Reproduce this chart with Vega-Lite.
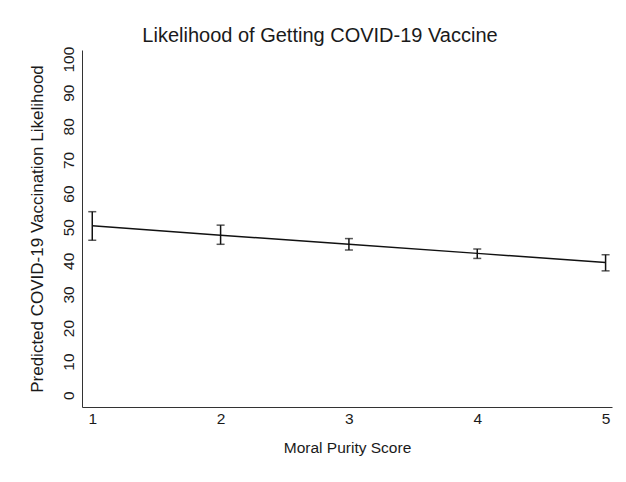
{
  "$schema": "https://vega.github.io/schema/vega-lite/v6.json",
  "width": 530,
  "height": 357,
  "autosize": {"type": "none"},
  "padding": {"left": 82, "top": 50, "right": 14, "bottom": 75},
  "background": "white",
  "title": {
    "text": "Likelihood of Getting COVID-19 Vaccine",
    "font": "Liberation Sans",
    "fontSize": 20,
    "fontWeight": "normal",
    "color": "#1a1a1a",
    "anchor": "middle",
    "dx": -27,
    "offset": 0
  },
  "data": {
    "values": [
      {"score": 1, "pred": 50.4, "lo": 46.1, "hi": 54.6},
      {"score": 2, "pred": 47.6, "lo": 44.9, "hi": 50.6},
      {"score": 3, "pred": 44.9, "lo": 43.2, "hi": 46.6},
      {"score": 4, "pred": 42.2, "lo": 40.7, "hi": 43.5},
      {"score": 5, "pred": 39.5, "lo": 37.0, "hi": 41.8}
    ]
  },
  "config": {
    "view": {"stroke": null},
    "axis": {
      "labelFont": "Liberation Sans",
      "titleFont": "Liberation Sans",
      "labelFontSize": 15.5,
      "titleFontSize": 15.5,
      "titleFontWeight": "normal",
      "labelColor": "#1a1a1a",
      "titleColor": "#1a1a1a",
      "domainColor": "#333333",
      "domainWidth": 1,
      "ticks": false,
      "tickSize": 0,
      "grid": false,
      "labelOverlap": false
    }
  },
  "encoding": {
    "x": {
      "field": "score",
      "type": "quantitative",
      "scale": {"domain": [0.92, 5.05], "nice": false, "zero": false},
      "axis": {"values": [1, 2, 3, 4, 5], "title": "Moral Purity Score", "labelPadding": 4, "titlePadding": 14, "labelFlush": false, "labelOverlap": false}
    }
  },
  "layer": [
    {
      "mark": {"type": "line", "color": "#111111", "strokeWidth": 1.5},
      "encoding": {
        "y": {
          "field": "pred",
          "type": "quantitative",
          "scale": {"domain": [-3.5, 102.7], "nice": false, "zero": false},
          "axis": {
            "values": [0, 10, 20, 30, 40, 50, 60, 70, 80, 90, 100],
            "title": "Predicted COVID-19 Vaccination Likelihood",
            "titleFontSize": 17,
            "labelAngle": 270,
            "labelAlign": "center",
            "labelBaseline": "bottom",
            "labelPadding": 6,
            "titlePadding": 15,
            "labelFlush": false,
            "labelOverlap": false,
            "labelBound": false
          }
        }
      }
    },
    {
      "mark": {"type": "rule", "color": "#111111", "strokeWidth": 1.5},
      "encoding": {
        "y": {
          "field": "lo",
          "type": "quantitative",
          "axis": {
            "values": [0, 10, 20, 30, 40, 50, 60, 70, 80, 90, 100],
            "title": "Predicted COVID-19 Vaccination Likelihood",
            "titleFontSize": 17,
            "labelAngle": 270,
            "labelAlign": "center",
            "labelBaseline": "bottom",
            "labelPadding": 6,
            "titlePadding": 15,
            "labelFlush": false,
            "labelOverlap": false,
            "labelBound": false
          }
        },
        "y2": {"field": "hi"}
      }
    },
    {
      "mark": {"type": "tick", "orient": "horizontal", "color": "#111111", "size": 8, "thickness": 1.5},
      "encoding": {
        "y": {
          "field": "lo",
          "type": "quantitative",
          "axis": {
            "values": [0, 10, 20, 30, 40, 50, 60, 70, 80, 90, 100],
            "title": "Predicted COVID-19 Vaccination Likelihood",
            "titleFontSize": 17,
            "labelAngle": 270,
            "labelAlign": "center",
            "labelBaseline": "bottom",
            "labelPadding": 6,
            "titlePadding": 15,
            "labelFlush": false,
            "labelOverlap": false,
            "labelBound": false
          }
        }
      }
    },
    {
      "mark": {"type": "tick", "orient": "horizontal", "color": "#111111", "size": 8, "thickness": 1.5},
      "encoding": {
        "y": {
          "field": "hi",
          "type": "quantitative",
          "axis": {
            "values": [0, 10, 20, 30, 40, 50, 60, 70, 80, 90, 100],
            "title": "Predicted COVID-19 Vaccination Likelihood",
            "titleFontSize": 17,
            "labelAngle": 270,
            "labelAlign": "center",
            "labelBaseline": "bottom",
            "labelPadding": 6,
            "titlePadding": 15,
            "labelFlush": false,
            "labelOverlap": false,
            "labelBound": false
          }
        }
      }
    }
  ]
}
